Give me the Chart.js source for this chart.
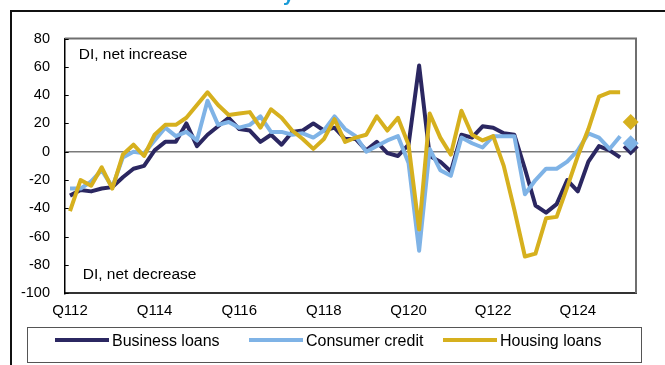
<!DOCTYPE html>
<html lang="en">
<head>
<meta charset="UTF-8">
<title>Loan demand</title>
<script src="https://cdn.jsdelivr.net/npm/chart.js"></script>
<style>
  html, body { margin: 0; padding: 0; background: #fff; }
  #wrap { position: relative; width: 665px; height: 365px; overflow: hidden; }
  #frame { position: absolute; left: 10px; top: 10px; width: 700px; height: 400px;
           border-top: 2px solid #111; border-left: 2px solid #111; }
  canvas { position: absolute; left: 0; top: 0; }
</style>
</head>
<body>
<div id="wrap">
  <div id="frame"></div>
  <canvas id="grafica" width="665" height="365"></canvas>
</div>

<script>
// quarters Q1 2012 .. Q2 2025 (last one only carries the expectation)
var quarters = [
  'Q112','Q212','Q312','Q412','Q113','Q213','Q313','Q413',
  'Q114','Q214','Q314','Q414','Q115','Q215','Q315','Q415',
  'Q116','Q216','Q316','Q416','Q117','Q217','Q317','Q417',
  'Q118','Q218','Q318','Q418','Q119','Q219','Q319','Q419',
  'Q120','Q220','Q320','Q420','Q121','Q221','Q321','Q421',
  'Q122','Q222','Q322','Q422','Q123','Q223','Q323','Q423',
  'Q124','Q224','Q324','Q424','Q125','Q225'
];

// diffusion index, net percentages
var business = [-31,-27,-28,-26,-25,-18,-12,-10,1,7,7,20,4,12,18,24,16,15,7,12,5,14,15,20,15,17,9,9,1,7,-1,-3,5,61,-3,-7,-14,12,10,18,17,13,12,-12,-38,-43,-37,-20,-28,-7,4,1,-4];
var consumer = [-26,-26,-21,-13,-25,-4,0,-1,8,17,11,14,8,36,19,21,17,19,25,14,14,12,13,10,15,25,16,11,0,4,8,11,-8,-70,2,-13,-17,10,6,3,11,11,11,-30,-20,-12,-12,-7,1,13,10,2,11];
var housing  = [-42,-20,-24,-11,-26,-2,5,-3,12,19,19,24,33,42,33,26,27,28,17,30,24,15,9,2,9,23,7,10,12,25,15,24,5,-55,27,10,-2,29,12,8,11,-10,-41,-74,-72,-47,-46,-25,-3,16,39,42,42];

// expectations for the next quarter (diamonds)
var expBusiness = 3;
var expConsumer = 6;
var expHousing  = 21;

var seriesNames = ['Business loans', 'Consumer credit', 'Housing loans'];
var colores = ['#2b2761', '#7fb3e6', '#d6b01e'];

var yTicks = [80, 60, 40, 20, 0, -20, -40, -60, -80, -100];

function soloUltimo(v) {
  var arr = [];
  for (var i = 0; i < quarters.length; i++) arr.push(i === quarters.length - 1 ? v : null);
  return arr;
}

Chart.defaults.font.family = "'Liberation Sans', Arial, sans-serif";
Chart.defaults.color = '#000';

// frame, inner ticks, notes and legend
var extras = {
  id: 'extras',
  beforeDatasetsDraw: function(chart) {
    var ctx = chart.ctx, a = chart.chartArea, y = chart.scales.y;
    ctx.save();
    ctx.strokeStyle = '#6f6f6f';
    ctx.lineWidth = 2;
    ctx.beginPath();
    ctx.moveTo(a.left, a.top);
    ctx.lineTo(a.right, a.top);
    ctx.lineTo(a.right, a.bottom);
    ctx.stroke();
    ctx.strokeStyle = '#000';
    ctx.lineWidth = 1;
    yTicks.forEach(function(t) {
      var py = Math.round(y.getPixelForValue(t)) + 0.5;
      ctx.beginPath();
      ctx.moveTo(a.left, py);
      ctx.lineTo(a.left + 4, py);
      ctx.stroke();
    });
    ctx.restore();
  },
  afterDraw: function(chart) {
    var ctx = chart.ctx, a = chart.chartArea, y = chart.scales.y;
    ctx.save();
    ctx.fillStyle = '#000';
    ctx.font = "15.5px 'Liberation Sans', Arial, sans-serif";
    ctx.textBaseline = 'alphabetic';
    ctx.fillText('DI, net increase', a.left + 14, y.getPixelForValue(65.5));
    ctx.fillText('DI, net decrease', a.left + 18, y.getPixelForValue(-90));

    // legend
    ctx.strokeStyle = '#555';
    ctx.lineWidth = 1;
    ctx.strokeRect(27.5, 327.5, 614, 35);
    ctx.font = "16px 'Liberation Sans', Arial, sans-serif";
    for (var i = 0; i < seriesNames.length; i++) {
      var x0 = 55 + i * 194;
      ctx.strokeStyle = colores[i];
      ctx.lineWidth = 4;
      ctx.beginPath();
      ctx.moveTo(x0, 340);
      ctx.lineTo(x0 + 54, 340);
      ctx.stroke();
      ctx.fillStyle = '#000';
      ctx.fillText(seriesNames[i], x0 + 57, 346);
    }

    // bottom of the heading above the panel
    ctx.fillStyle = '#1a9bd7';
    ctx.font = "bold 20px 'Liberation Sans', Arial, sans-serif";
    ctx.fillText('y', 283, 1);
    ctx.restore();
  }
};

function linea(label, data, color, order) {
  return {
    label: label, data: data, borderColor: color, backgroundColor: color,
    borderWidth: 4, pointRadius: 0, tension: 0, order: order,
    borderJoinStyle: 'round', borderCapStyle: 'butt'
  };
}

function diamante(label, v, color, order) {
  return {
    label: label, data: soloUltimo(v), showLine: false,
    pointStyle: 'rectRot', pointRadius: 8, pointBorderWidth: 0,
    backgroundColor: color, borderColor: color, order: order
  };
}

var ctx = document.getElementById('grafica').getContext('2d');
var grafica = new Chart(ctx, {
  type: 'line',
  data: {
    labels: quarters,
    datasets: [
      linea(seriesNames[0], business, colores[0], 5),
      linea(seriesNames[1], consumer, colores[1], 4),
      linea(seriesNames[2], housing, colores[2], 3),
      diamante(seriesNames[0] + ' exp.', expBusiness, colores[0], 2),
      diamante(seriesNames[1] + ' exp.', expConsumer, colores[1], 1),
      diamante(seriesNames[2] + ' exp.', expHousing, colores[2], 0)
    ]
  },
  options: {
    responsive: false,
    animation: false,
    layout: { padding: { top: 38.5, right: 29, left: 0, bottom: 0 } },
    plugins: { legend: { display: false }, tooltip: { enabled: false } },
    scales: {
      x: {
        offset: true,
        grid: { display: false, drawTicks: false },
        border: { color: '#333', width: 2 },
        ticks: {
          autoSkip: false, maxRotation: 0, padding: 9,
          font: { size: 15 },
          callback: function(v, i) { return i % 8 === 0 ? quarters[i] : ''; }
        },
        afterFit: function(s) { s.height = 71.7; }
      },
      y: {
        min: -100, max: 80,
        grid: {
          drawTicks: false, lineWidth: 1.5,
          color: function(c) { return c.tick.value === 0 ? '#7a7a7a' : 'rgba(0,0,0,0)'; }
        },
        border: { color: '#000', width: 1.5 },
        ticks: { stepSize: 20, padding: 14.7, font: { size: 14.5 } },
        afterFit: function(s) { s.width = 64.7; }
      }
    }
  },
  plugins: [extras]
});
</script>
</body>
</html>
